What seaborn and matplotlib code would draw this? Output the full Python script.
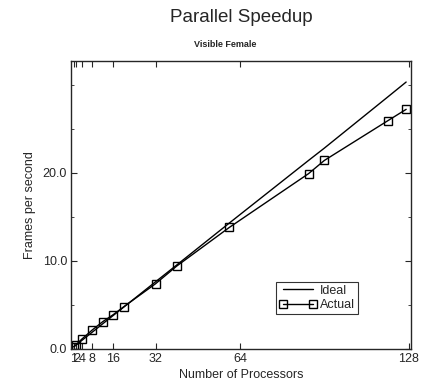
import numpy as np
import pandas as pd
import matplotlib
matplotlib.use("Agg")
import matplotlib.pyplot as plt
import seaborn as sns

# values
processors = [1, 2, 4, 8, 12, 16, 20, 32, 40, 60, 90, 96, 120, 127]
actual_fps = [0.25, 0.5, 1.1, 2.15, 3.1, 3.9, 4.8, 7.4, 9.4, 13.8, 19.9, 21.4, 25.9, 27.2]
ideal_fps = [0.238, 0.476, 0.952, 1.9, 2.86, 3.81, 4.76, 7.62, 9.52, 14.3, 21.4, 22.8, 28.6, 30.3]
x_ticks = [1, 2, 4, 8, 16, 32, 64, 128]
y_ticks = [0, 10, 20]

sns.set_style("ticks")
plt.rcParams["font.family"] = ["Liberation Sans", "DejaVu Sans"]

df = pd.DataFrame({"p": processors, "Actual": actual_fps, "Ideal": ideal_fps})

fig = plt.figure(figsize=(4.21, 3.83), dpi=100)
ax = fig.add_axes([0.169, 0.089, 0.807, 0.752])

sns.lineplot(data=df, x="p", y="Ideal", ax=ax, color="black", lw=1.0, label="Ideal")
sns.lineplot(data=df, x="p", y="Actual", ax=ax, color="black", lw=1.0,
             marker="s", markersize=6, markerfacecolor="none",
             markeredgecolor="black", markeredgewidth=1.0, label="Actual")

ax.set_xlim(0, 128.8)
ax.set_ylim(0, 32.7)
ax.set_xticks(x_ticks)
ax.set_xticklabels([str(t) for t in x_ticks], fontsize=9)
ax.set_yticks(y_ticks)
ax.set_yticklabels(["%.1f" % t for t in y_ticks], fontsize=9)
ax.set_yticks([5, 15, 25, 30], minor=True)
ax.tick_params(direction="in", top=True, right=True, length=4, width=0.8, pad=3)
ax.tick_params(which="minor", direction="in", right=True, length=2)
for s in ax.spines.values():
    s.set_linewidth(1.0)
    s.set_visible(True)

ax.set_xlabel("Number of Processors", fontsize=9, labelpad=3)
ax.set_ylabel("Frames per second", fontsize=9, labelpad=5)

leg = ax.legend(loc="lower right", bbox_to_anchor=(0.845, 0.12), fontsize=9,
                numpoints=2, handlelength=3.0, frameon=True, fancybox=False,
                edgecolor="black", borderpad=0.25, labelspacing=0.2,
                handletextpad=0.3, borderaxespad=0)
leg.get_frame().set_linewidth(0.8)

fig.text(0.573, 0.955, "Parallel Speedup", ha="center", va="center", fontsize=13.5)
fig.text(0.534, 0.885, "Visible Female", ha="center", va="center", fontsize=6.5,
         fontweight="bold")

fig.savefig("out.png", dpi=100)
